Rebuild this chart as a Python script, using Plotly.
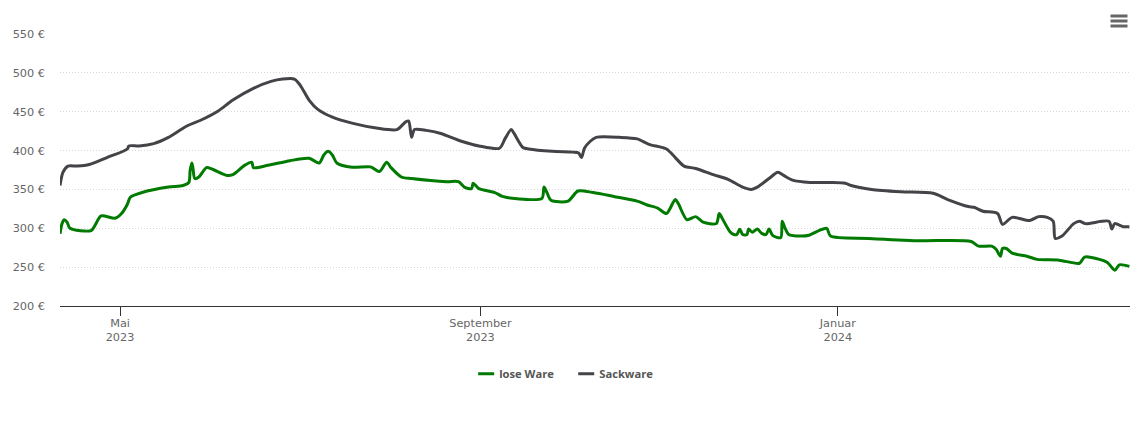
import pandas as pd
import plotly.graph_objects as go

START = pd.Timestamp("2023-04-10 12:00")
END = pd.Timestamp("2024-04-09 17:00")

# days since START, prices in euro
lose_days = [0,0.7,1.4,2.4,3.4,10.6,12,14,18.8,21,23,24,28,37,42,44,44.4,45,45.4,46,47.4,50,52,57,59,63,65.5,66,71,78.5,85,88.5,90,91.5,93,94.5,99.7,106,109,111.5,113,116.5,120,132,136,138,140.5,141,143,148.4,151,156,164.5,165.2,166.2,167.6,173.4,176.8,182,189,197,200.4,204,207,210,211,214,217,219.5,224,225,226,228.6,230,231,232,233,234.5,235,236.3,238,239.5,241,242,243.3,246,246.5,247.5,248.7,253,255.6,259,261.7,263,276,293,311,313.5,318,319.5,321,321.7,323,325,330,333.5,341,348,349.7,354.8,357.5,360,361.6,365]
lose_values = [293,306,311,308,300,297,304,316,313,319,331,340,346,353,355,359,374,384,377,364,366,378,376,368,369,381,385,378,381,387,390,384,394,399,394,384,378.5,379,373,385,378,366,364,360,360,353,351,358,351,346,341,338,338.5,353,346,336,335,348,346,341,335,330,326,319,337,332,311,315,308,306,319,313,296,292,292,298.6,292,292,299,295,299,293.4,292,299,290.5,288,309,300,292,290,291,297,300,290,287,284,283,277,277,273,264,274,274,268,264,260,259,255,263,260,256,246,253,251]

sack_days = [0,1,2.7,6,10,16,23,23.5,27,32,37,43,48,54,59,66,72,76,80,82,85,88,93,100,108,115,118,119,120,121,125,130,137,143,150,152,154,155,158,160,168,175,177,178,179,181,183,191,197,201,207,210,213,217,223,228,233,236,238,242,245,247,250,256,263,268,270,277,287,298,303,310,312,315,320,321.7,325,331,334,337,339,339.7,342,346,348,350,358,359,360,363,365]
sack_values = [355,372,380,380,382,391,402,406,406,409,417,431,439,451,465,480,489,492,492,484,465,453,443,435,429,427,437,438,417,427,426,422,412,406,403,416,427,422,404,402,399,398,397,391,403,412,417,417,415,408,402,391,380,377,369,363,353,350,353,364,372,368,362,359,359,358,355,350,347,345,337,328,327,322,319,305,314,310,315,314,309,287,290,306,309,306,309,299,306,302,302]

price_ticks = [200, 250, 300, 350, 400, 450, 500, 550]
price_labels = [f"{p} €" for p in price_ticks]
date_ticks = ["2023-05-01", "2023-09-01", "2024-01-01"]
date_labels = ["Mai<br>2023", "September<br>2023", "Januar<br>2024"]

FONT = "DejaVu Sans"


def dates(days):
    return START + pd.to_timedelta(days, unit="D")


fig = go.Figure()
fig.add_trace(go.Scatter(x=dates(lose_days), y=lose_values, name="lose Ware", mode="lines",
                         line=dict(color="#007a00", width=3, shape="spline", smoothing=0.75)))
fig.add_trace(go.Scatter(x=dates(sack_days), y=sack_values, name="Sackware", mode="lines",
                         line=dict(color="#434348", width=3, shape="spline", smoothing=0.75)))

# hamburger menu
shapes = [dict(type="line", xref="paper", yref="paper", x0=(1110.5 - 60) / 1070, x1=(1127.5 - 60) / 1070,
               y0=(306 - yy) / 272, y1=(306 - yy) / 272, line=dict(color="#666666", width=3))
          for yy in (16, 21, 26)]

fig.update_layout(
    width=1140, height=434,
    margin=dict(l=60, r=10, t=34, b=128),
    paper_bgcolor="white", plot_bgcolor="white",
    font=dict(family=FONT, size=11.3, color="#666666"),
    showlegend=True,
    legend=dict(orientation="h", x=0.4665, xanchor="center", y=-0.249, yanchor="middle",
                font=dict(family="Open Sans", size=11.2, color="#555555", weight="bold"),
                itemwidth=30, tracegroupgap=0),
    shapes=shapes,
    xaxis=dict(type="date", range=[START, END], tickmode="array", tickvals=date_ticks, ticktext=date_labels,
               showgrid=False, zeroline=False, showline=True, linecolor="#333333", linewidth=1,
               ticks="outside", ticklen=9, tickcolor="#333333", tickwidth=1, ticklabelstandoff=-3,
               tickfont=dict(family=FONT, size=11.3, color="#666666")),
    yaxis=dict(range=[200, 550], tickmode="array", tickvals=price_ticks, ticktext=price_labels,
               showgrid=True, gridcolor="#d8d8d8", griddash="1px,2px", gridwidth=1, zeroline=False,
               showline=False, ticks="", ticklabelstandoff=14,
               tickfont=dict(family=FONT, size=11.3, color="#666666")),
)

post = """
document.body.style.margin='0';
(function(){
  var gd=document.getElementById('{plot_id}');
  function shorten(){document.querySelectorAll('.legendlines path').forEach(function(p){p.setAttribute('d','M19,0h16');});}
  shorten();
  if(gd&&gd.on){gd.on('plotly_afterplot',shorten);}
})();
"""
fig.write_html("out.html", config=dict(displayModeBar=False), post_script=post)
